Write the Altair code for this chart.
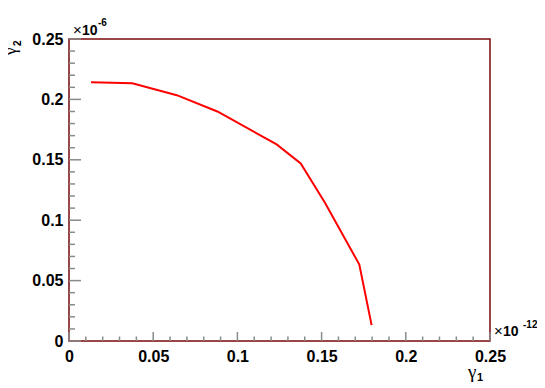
import altair as alt
import pandas as pd

# gamma_1 in units of 1e-12, gamma_2 in units of 1e-6
gamma1 = [0.0131, 0.0376, 0.0640, 0.0881, 0.1233, 0.1376, 0.1520, 0.1724, 0.1797]
gamma2 = [0.2142, 0.2134, 0.2035, 0.1900, 0.1627, 0.1470, 0.1144, 0.0633, 0.0131]
major_ticks = [0, 0.05, 0.1, 0.15, 0.2, 0.25]
minor_ticks = [0.01, 0.02, 0.03, 0.04, 0.06, 0.07, 0.08, 0.09, 0.11, 0.12, 0.13, 0.14,
               0.16, 0.17, 0.18, 0.19, 0.21, 0.22, 0.23, 0.24]

W, H = 421, 302

line_df = pd.DataFrame({"g1": gamma1, "g2": gamma2, "order": list(range(len(gamma1)))})
major_df = pd.DataFrame({"v": major_ticks})
minor_df = pd.DataFrame({"v": minor_ticks})

xs = alt.Scale(domain=[0, 0.25], nice=False, zero=False)
ys = alt.Scale(domain=[0, 0.25], nice=False, zero=False)

lab = dict(labelFont="Liberation Sans", labelFontWeight="bold", labelFontSize=16,
           labelColor="black", ticks=False, domain=False, grid=False, title=None,
           labelFlush=False, labelOverlap=False, values=major_ticks, format=".2~f")
xaxis = alt.Axis(labelPadding=7, **lab)
yaxis = alt.Axis(labelPadding=6, **lab)

line = alt.Chart(line_df).mark_line(color="#ff0000", strokeWidth=2).encode(
    x=alt.X("g1:Q", scale=xs, axis=xaxis),
    y=alt.Y("g2:Q", scale=ys, axis=yaxis),
    order="order:Q",
)

tick_color = "#8a8a8a"
x_major = alt.Chart(major_df).mark_rule(color=tick_color, strokeWidth=1.5).encode(
    x=alt.X("v:Q", scale=xs, axis=xaxis), y=alt.value(H), y2=alt.value(H - 9))
x_minor = alt.Chart(minor_df).mark_rule(color=tick_color, strokeWidth=1.5).encode(
    x=alt.X("v:Q", scale=xs, axis=xaxis), y=alt.value(H), y2=alt.value(H - 4.5))
y_major = alt.Chart(major_df).mark_rule(color=tick_color, strokeWidth=1.5).encode(
    y=alt.Y("v:Q", scale=ys, axis=yaxis), x=alt.value(0), x2=alt.value(12))
y_minor = alt.Chart(minor_df).mark_rule(color=tick_color, strokeWidth=1.5).encode(
    y=alt.Y("v:Q", scale=ys, axis=yaxis), x=alt.value(0), x2=alt.value(6))

def txt(s, x, y, size, weight="normal", angle=0, align="left", baseline="alphabetic",
        font="Liberation Sans"):
    return alt.Chart(pd.DataFrame({"t": [s]})).mark_text(
        font=font, fontSize=size, fontWeight=weight, color="black",
        align=align, baseline=baseline, angle=angle
    ).encode(text="t:N", x=alt.value(x), y=alt.value(y))

annots = [
    # x10^-6 at top of y axis
    txt("\u00d7", 4, -4, 15),
    txt("10", 13, -4, 14, weight="bold"),
    txt("-6", 29, -13, 10, weight="bold"),
    # x10^-12 at end of x axis
    txt("\u00d7", 425, 297, 15),
    txt("10", 434, 297, 14, weight="bold"),
    txt("-12", 454, 289, 10, weight="bold"),
    # axis titles
    txt("\u03b3", 399, 339, 19, font="Liberation Serif"),
    txt("1", 408, 342, 11, weight="bold"),
    txt("\u03b3", -53, 16, 17, angle=270, font="Liberation Serif"),
    txt("2", -48, 7, 10, weight="bold", angle=270),
]

chart = alt.layer(x_minor, x_major, y_minor, y_major, line, *annots).properties(
    width=W, height=H,
    autosize=alt.AutoSizeParams(type="none"),
    padding={"left": 61, "top": 31, "right": 47, "bottom": 45},
).configure_view(stroke="#7a0a0a", strokeWidth=1.5)

chart.save("out.html", embed_options={"renderer": "svg", "actions": False})
